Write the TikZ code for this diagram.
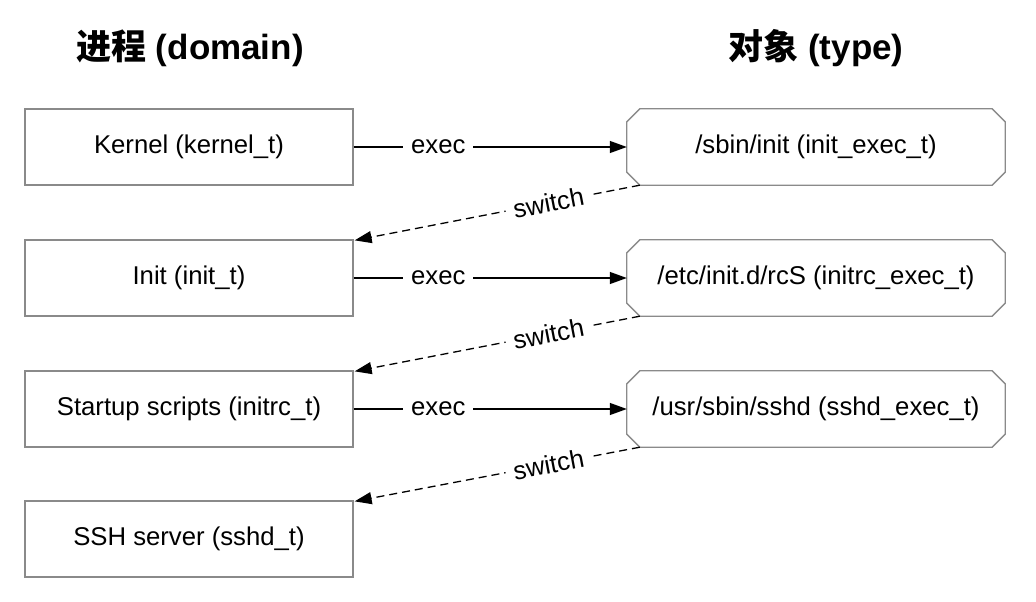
\documentclass[tikz,border=0pt]{standalone}
\usepackage{fontspec}
\setmainfont{Liberation Sans}
\newfontfamily\cjk{Noto Sans CJK SC}
\usetikzlibrary{arrows.meta,calc}
\definecolor{boxgray}{HTML}{8A8A8A}
\begin{document}
\begin{tikzpicture}[x=1pt,y=-1pt,
  every node/.style={font=\fontsize{25.7}{30}\selectfont},
  lbox/.style={draw=boxgray,line width=1.3pt,minimum width=328pt,minimum height=76pt,inner sep=0pt},
  rbox/.style={minimum width=378pt,minimum height=76pt,inner sep=0pt},
  chamf/.style={draw=boxgray,line width=1.3pt},
  title/.style={font=\fontsize{35}{40}\selectfont\bfseries},
  execarrow/.style={line width=1.3pt,-{Triangle[length=17pt,width=12pt]}},
  switcharrow/.style={line width=1.3pt,dash pattern=on 8pt off 5pt,-{Triangle[length=17pt,width=12pt]}},
  lab/.style={fill=white,inner xsep=8pt,inner ysep=2pt}
]
\useasboundingbox (0,0) rectangle (1036,602);
\node[title] (t1) at (190,48) {{\cjk 进程} (domain)};
\node[title] (t2) at (816,48) {{\cjk 对象} (type)};

\node[lbox] (l1) at (189,147) {Kernel (kernel\_t)};
\node[lbox] (l2) at (189,278) {Init (init\_t)};
\node[lbox] (l3) at (189,409) {Startup scripts (initrc\_t)};
\node[lbox] (l4) at (189,539) {SSH server (sshd\_t)};

\node[rbox] (r1) at (816,147) {/sbin/init (init\_exec\_t)};
\node[rbox] (r2) at (816,278) {/etc/init.d/rcS (initrc\_exec\_t)};
\node[rbox] (r3) at (816,409) {/usr/sbin/sshd (sshd\_exec\_t)};

\foreach \r in {r1,r2,r3}{
  \draw[chamf] ($(\r.north west)+(13,0)$) -- ($(\r.north east)+(-13,0)$) -- ($(\r.north east)+(0,13)$)
    -- ($(\r.south east)+(0,-13)$) -- ($(\r.south east)+(-13,0)$) -- ($(\r.south west)+(13,0)$)
    -- ($(\r.south west)+(0,-13)$) -- ($(\r.north west)+(0,13)$) -- cycle;
}

\foreach \a/\b in {l1/r1,l2/r2,l3/r3}{
  \draw[execarrow] (\a.east) -- node[lab,pos=0.31]{exec} (\b.west);
}
\foreach \a/\b in {r1/l2,r2/l3,r3/l4}{
  \draw[switcharrow] ($(\a.south west)+(13,0)$) -- node[lab,sloped,pos=0.32,inner ysep=0pt]{switch} ($(\b.north east)+(1,1)$);
}
\end{tikzpicture}
\end{document}
